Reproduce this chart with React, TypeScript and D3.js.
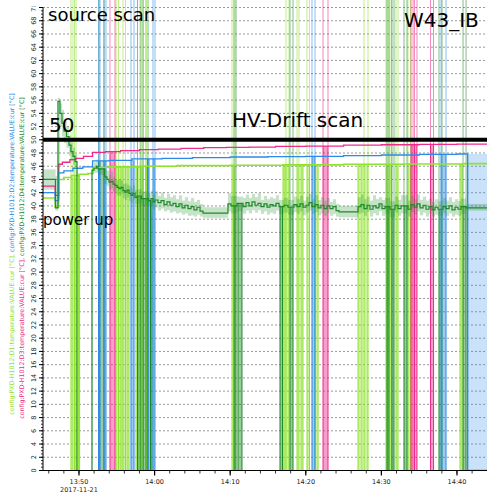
import React from 'react';
import * as d3 from 'd3';

const W = 487;
const H = 494;
const BASE = new Date(2017, 10, 21, 13, 45, 0).getTime();
const T = (m: number) => new Date(BASE + m * 60000);

const T_START = 0.24;
const T_END = 58.97;
const Y_MIN = 0;
const Y_MAX = 70;

const LIME = '#8fe22e';
const PINK = '#ee2a8a';
const BLUE = '#2b8ae6';
const DGREEN = '#1e8a28';

const labelD1 = 'config:PXD-H1012:D1:temperature:VALUE:cur [°C],';
const labelD2 = ' config:PXD-H1012:D2:temperature:VALUE:cur [°C]';
const labelD3 = 'config:PXD-H1012:D3:temperature:VALUE:cur [°C],';
const labelD4 = ' config:PXD-H1012:D4:temperature:VALUE:cur [°C]';

// [minutes after 13:45, value]
const d1Line: [number, number][] = [
  [0.24, 41.2], [1.85, 39.8], [2.3, 44.0], [3.0, 44.3], [4.0, 44.6], [5.0, 44.8], [6.2, 44.9],
  [6.85, 45.8], [9.0, 45.9], [13, 46.0], [18, 46.1], [25, 46.15], [32, 46.2], [40, 46.3],
  [48, 46.35], [56, 46.4], [58.97, 46.4],
];
const d2Line: [number, number][] = [
  [0.24, 42], [1.85, 40.8], [2.3, 45.0], [3.0, 45.3], [4.2, 45.7], [5.5, 45.9], [6.8, 46.8],
  [9, 46.9], [12, 47.1], [16, 47.2], [20, 47.3], [25, 47.4], [30, 47.45], [35, 47.5], [40, 47.6],
  [45, 47.7], [50, 47.8], [55, 47.85], [56.4, 0], [58.97, 0],
];
const d3Line: [number, number][] = [
  [0.24, 43], [1.85, 41.6], [2.3, 46.3], [2.8, 46.6], [3.8, 47], [4.6, 47.2], [5.6, 47.5],
  [6.8, 48.1], [8.5, 48.2], [10.5, 48.35], [13, 48.5], [15.5, 48.6], [18.5, 48.7], [21.5, 48.8],
  [24.5, 48.85], [27.5, 48.9], [31, 49.0], [35, 49.05], [40, 49.2], [45, 49.25], [50, 49.3],
  [55, 49.35], [58.97, 49.35],
];
// [minutes, mean, min, max]
const d4Line: [number, number, number, number][] = [
  [0.24, 44, 42.5, 45.5], [1.89, 39.7, 39.3, 44.5], [2.22, 55.8, 41, 56.3], [2.49, 54, 52, 55.5],
  [2.75, 52.5, 50.5, 54.5], [3.02, 51.3, 49.5, 53], [3.35, 50.5, 48.8, 52], [3.68, 49.2, 47.6, 50.6],
  [3.94, 48.2, 46.8, 49.6], [4.21, 47.5, 46.2, 48.8], [4.47, 46.7, 45.8, 47.8], [4.74, 0, 0, 0],
  [6.72, 45.4, 44.8, 46], [6.99, 45.7, 45, 46.6], [7.32, 46, 45, 47], [7.52, 45.6, 44.7, 46.8],
  [8.37, 44.4, 43.3, 45.5], [8.7, 44, 43, 45.3], [8.97, 43.6, 42.5, 44.7], [9.23, 43.7, 42.6, 45.2],
  [9.5, 43.3, 42.2, 44.4], [9.76, 43.1, 41.9, 44.1], [10.03, 42.8, 41.6, 43.9], [10.29, 42.6, 41.5, 44],
  [10.56, 42.8, 41.8, 43.8], [10.82, 42.3, 41.2, 43.3], [11.09, 42.1, 40.9, 43.4], [11.35, 42.4, 41.3, 43.2],
  [11.62, 41.9, 40.8, 43], [11.88, 41.6, 40.4, 42.6], [12.14, 41.9, 40.9, 43.1], [12.41, 41.3, 40.3, 42.4],
  [12.67, 41.5, 40.4, 42.5], [13.27, 41.1, 40, 42.2], [14.19, 40.8, 39.9, 42], [14.52, 41.1, 40, 42.3],
  [14.79, 40.6, 39.5, 41.7], [15.05, 40.9, 39.8, 42.2], [15.45, 40.5, 39.3, 41.5], [15.85, 40.8, 39.6, 42],
  [16.25, 40.2, 39.2, 41.2], [16.64, 40.6, 39.4, 41.8], [17.04, 40.1, 39, 41.3], [17.44, 40.4, 39.2, 41.6],
  [17.83, 39.9, 38.9, 41], [18.23, 40.3, 39, 41.6], [18.63, 39.7, 38.7, 40.8], [19.02, 40.1, 38.9, 41.3],
  [19.42, 39.6, 38.5, 40.7], [19.82, 39.9, 38.6, 41.2], [20.21, 39.4, 38.4, 40.6], [20.61, 39.8, 38.7, 40.9],
  [21.01, 39.2, 38.4, 40.3], [21.4, 38.9, 38.2, 39.8], [24.58, 38.9, 38.2, 39.8], [24.71, 40.3, 39.2, 41.9],
  [25.11, 40, 38.9, 41.5], [25.9, 40.4, 39.2, 41.4], [26.7, 39.9, 38.8, 41.2], [27.09, 40.5, 39.3, 41.7],
  [27.49, 40, 38.9, 41.2], [27.89, 40.6, 39.4, 41.8], [28.28, 40.1, 39, 41.3], [28.68, 40.4, 39.4, 41.9],
  [29.08, 39.9, 38.8, 40.9], [29.47, 40.3, 39.2, 41.5], [29.87, 39.8, 38.7, 41], [30.27, 40.2, 39, 41.3],
  [30.66, 40, 38.8, 41.1], [31.06, 40.4, 39.3, 41.6], [31.46, 39.9, 38.8, 40.9], [32.12, 40.1, 39, 41.2],
  [32.65, 39.8, 38.7, 40.9], [33.44, 40.2, 39.1, 41.4], [33.84, 39.9, 38.8, 41], [34.23, 40.3, 39.2, 41.5],
  [34.63, 39.8, 38.6, 40.8], [35.03, 40.1, 39, 41.4], [35.43, 40.5, 39.3, 41.8], [35.82, 39.9, 38.8, 41],
  [36.22, 40.2, 39.1, 41.6], [36.62, 39.7, 38.6, 40.9], [37.01, 40.1, 38.9, 41.3], [37.41, 39.6, 38.5, 40.8],
  [37.81, 40, 38.9, 41.2], [38.2, 39.6, 38.5, 40.6], [38.6, 39.9, 38.8, 41], [39.0, 39.3, 38.4, 40.3],
  [39.39, 39.1, 38.3, 40], [41.64, 39.1, 38.3, 40], [41.91, 39.9, 38.8, 41.3], [42.3, 40.2, 39, 41.7],
  [42.7, 39.6, 38.5, 41], [43.1, 40.1, 39.1, 41.4], [43.49, 39.5, 38.4, 40.8], [43.89, 40, 38.9, 41.6],
  [44.29, 39.7, 38.6, 41], [44.68, 40.3, 39.2, 41.3], [45.08, 39.6, 38.5, 40.9], [45.48, 39.9, 38.8, 41.2],
  [46.14, 39.5, 38.3, 40.7], [46.8, 40.1, 39, 41.4], [47.2, 39.6, 38.5, 40.9], [47.6, 40, 38.9, 41.6],
  [48.52, 39.5, 38.4, 40.8], [48.92, 40.2, 39.1, 41.5], [49.32, 39.8, 38.7, 41], [49.71, 40.3, 39.2, 41.7],
  [50.11, 39.7, 38.6, 40.9], [50.51, 40.1, 39, 41.4], [50.9, 39.5, 38.4, 40.8], [51.3, 39.9, 38.8, 41.1],
  [51.7, 39.4, 38.4, 40.6], [52.09, 39.8, 38.7, 41], [52.49, 39.5, 38.5, 40.7], [53.15, 39.9, 38.9, 41.2],
  [53.55, 39.6, 38.5, 40.8], [53.95, 40, 38.9, 41.3], [54.34, 39.4, 38.4, 40.6], [54.74, 39.8, 38.7, 41],
  [55.14, 39.5, 38.5, 40.7], [55.54, 39.9, 38.8, 41.1], [56.2, 39.7, 39.3, 40.3], [58.97, 39.7, 39.3, 40.3],
];

// dropouts: [start min, end min, spike to top (1) or not (0)]
const d1Drops: [number, number, number][] = [
  [3.94, 4.21, 1], [4.41, 4.61, 1], [4.95, 5.08, 0], [9.9, 10.23, 1], [10.43, 10.69, 0],
  [10.82, 11.15, 1], [11.35, 11.62, 0], [12.54, 12.81, 0], [13.07, 13.47, 1], [13.8, 13.93, 1],
  [25.24, 25.64, 1], [31.99, 32.25, 0], [32.38, 32.78, 1], [33.84, 34.1, 1], [34.37, 34.63, 0],
  [35.16, 35.49, 1], [36.22, 36.62, 0], [41.91, 42.44, 0], [42.7, 43.23, 1], [45.61, 45.88, 1],
  [46.14, 46.34, 1], [46.93, 47.2, 1], [48.52, 48.85, 1], [55.4, 55.67, 0],
];
const d2Drops: [number, number, number][] = [
  [7.58, 7.78, 1], [8.31, 8.57, 1], [11.88, 12.28, 1], [14.06, 14.26, 0], [14.79, 15.05, 1],
  [35.82, 36.22, 1], [52.89, 53.55, 1],
];
const d3Drops: [number, number, number][] = [
  [9.1, 9.76, 1], [37.28, 37.94, 1], [48.92, 49.19, 1], [49.38, 49.71, 1], [51.5, 51.9, 1],
];
const d4Drops: [number, number, number][] = [
  [7.65, 8.31, 1], [12.74, 13.2, 1], [13.47, 14.13, 1], [14.46, 14.66, 0], [25.5, 25.77, 1],
  [26.03, 26.56, 0], [31.59, 31.92, 0], [32.91, 33.31, 1], [45.74, 46.01, 1], [46.4, 46.67, 1],
  [47.99, 48.39, 1], [52.62, 53.02, 1], [55.8, 56.2, 1],
];

const yTickValues = d3.range(0, 71, 2);
const yMinorValues = d3.range(0, 70.01, 0.5);

const L = 43;
const R = 487;
const Y0 = 470.5;
const Y70 = 7.5;

function valueAt(line: number[][], t: number) {
  let v = line[0][1];
  for (const p of line) {
    if (p[0] <= t) v = p[1];
    else break;
  }
  return v;
}

export default function App() {
  const x = d3.scaleTime().domain([T(T_START), T(T_END)]).range([L, R]);
  const y = d3.scaleLinear().domain([Y_MIN, Y_MAX]).range([Y0, Y70]);

  const line = d3
    .line<number[]>()
    .x((d) => x(T(d[0])))
    .y((d) => y(d[1]))
    .curve(d3.curveStepAfter);
  const band = d3
    .area<number[]>()
    .x((d) => x(T(d[0])))
    .y0((d) => y(d[2]))
    .y1((d) => y(d[3]))
    .curve(d3.curveStepAfter);

  const majorX = x.ticks(d3.timeMinute.every(10) as any);
  const minorX = x.ticks(d3.timeMinute.every(2) as any);
  const fmt = d3.timeFormat('%H:%M');

  const drops = (list: [number, number, number][], ln: number[][], color: string, k: string) =>
    list.map(([t0, t1, top], i) => {
      const v = valueAt(ln, t0);
      const x0 = x(T(t0));
      const x1 = x(T(t1));
      return (
        <g key={k + i}>
          <rect x={x0} y={y(v)} width={Math.max(x1 - x0, 1)} height={y(0) - y(v)} fill={color} opacity={0.45} />
          <line x1={x0} x2={x0} y1={y(0)} y2={y(v)} stroke={color} strokeWidth={1} />
          <line x1={x1} x2={x1} y1={y(0)} y2={y(v)} stroke={color} strokeWidth={1} />
          {top ? (
            <g>
              <line x1={x0} x2={x0} y1={0} y2={y(v)} stroke={color} strokeWidth={1} opacity={0.55} />
              <line x1={x1} x2={x1} y1={0} y2={y(v)} stroke={color} strokeWidth={1} opacity={0.55} />
            </g>
          ) : null}
        </g>
      );
    });

  const blueEndStart = 56.4;
  const blueEndVal = 47.85;

  return (
    <svg
      width={W}
      height={H}
      style={{ position: 'absolute', left: 0, top: 0, background: '#fff' }}
      fontFamily="DejaVu Sans, sans-serif"
    >
      <defs>
        <clipPath id="plotclip">
          <rect x={L} y={0} width={R - L} height={Y0} />
        </clipPath>
        <clipPath id="ylabclip">
          <rect x={0} y={6.5} width={L} height={H} />
        </clipPath>
      </defs>
      <rect x={0} y={0} width={W} height={H} fill="#fff" />
      {/* grid */}
      {yTickValues.map((v) => (
        <line key={'g' + v} x1={L} x2={R} y1={y(v)} y2={y(v)} stroke="#999" strokeWidth={1} strokeDasharray="2,2" />
      ))}
      <g clipPath="url(#plotclip)">
        {/* blue end region */}
        <rect
          x={x(T(blueEndStart))}
          y={y(blueEndVal)}
          width={R - x(T(blueEndStart))}
          height={y(0) - y(blueEndVal)}
          fill={BLUE}
          opacity={0.25}
        />
        <line x1={x(T(blueEndStart))} x2={x(T(blueEndStart))} y1={y(0)} y2={y(blueEndVal)} stroke={BLUE} strokeWidth={1.2} />
        {drops(d1Drops, d1Line, LIME, 'a')}
        {drops(d4Drops, d4Line, DGREEN, 'd')}
        {drops(d2Drops, d2Line, BLUE, 'b')}
        {drops(d3Drops, d3Line, PINK, 'c')}
        <path d={band(d4Line) || ''} fill={DGREEN} opacity={0.25} stroke={DGREEN} strokeOpacity={0.35} strokeWidth={0.6} />
        <path d={line(d1Line) || ''} fill="none" stroke={LIME} strokeWidth={1.6} />
        <path d={line(d3Line) || ''} fill="none" stroke={PINK} strokeWidth={1.3} />
        <path d={line(d2Line) || ''} fill="none" stroke={BLUE} strokeWidth={1.3} />
        <path d={line(d4Line) || ''} fill="none" stroke={DGREEN} strokeWidth={1.2} />
      </g>
      {/* 50 line */}
      <line x1={L} x2={R} y1={y(50)} y2={y(50)} stroke="#000" strokeWidth={4} />
      {/* axes */}
      <line x1={L} x2={R} y1={Y0} y2={Y0} stroke="#000" strokeWidth={1} />
      <line x1={L} x2={L} y1={Y70} y2={Y0} stroke="#000" strokeWidth={1} />
      {yMinorValues.map((v) => (
        <line key={'ym' + v} x1={L - 2} x2={L} y1={y(v)} y2={y(v)} stroke="#000" strokeWidth={0.8} />
      ))}
      {yTickValues.map((v) => (
        <line key={'yt' + v} x1={L - 4} x2={L} y1={y(v)} y2={y(v)} stroke="#000" strokeWidth={1} />
      ))}
      <g clipPath="url(#ylabclip)">
        {yTickValues.map((v) => (
          <text
            key={'yl' + v}
            transform={`translate(36,${y(v)}) rotate(-90)`}
            textAnchor="middle"
            fontSize={6.5}
            fill="#222"
          >
            {v}
          </text>
        ))}
      </g>
      {minorX.map((d, i) => (
        <line key={'xm' + i} x1={x(d)} x2={x(d)} y1={Y0} y2={Y0 + 3} stroke="#000" strokeWidth={0.8} />
      ))}
      {majorX.map((d, i) => (
        <g key={'xt' + i}>
          <line x1={x(d)} x2={x(d)} y1={Y0} y2={Y0 + 5} stroke="#000" strokeWidth={1.2} />
          <text x={x(d)} y={484} textAnchor="middle" fontSize={6.5} fill="#222">
            {fmt(d)}
          </text>
        </g>
      ))}
      <text x={x(T(5))} y={492} textAnchor="middle" fontSize={6.5} fill="#222">
        2017-11-21
      </text>
      {/* y labels */}
      <text transform="translate(14,254) rotate(-90)" textAnchor="middle" fontSize={6.3}>
        <tspan fill={LIME}>{labelD1}</tspan>
        <tspan fill={BLUE}>{labelD2}</tspan>
      </text>
      <text transform="translate(24,258) rotate(-90)" textAnchor="middle" fontSize={6.3}>
        <tspan fill={PINK}>{labelD3}</tspan>
        <tspan fill={DGREEN}>{labelD4}</tspan>
      </text>
      {/* annotations */}
      <text x={48} y={21} fontSize={18} fill="#000">source scan</text>
      <text x={404} y={27} fontSize={20} fill="#000">W43_IB</text>
      <text x={49} y={132} fontSize={20} fill="#000">50</text>
      <text x={232} y={127} fontSize={20} fill="#000">HV-Drift scan</text>
      <text x={43} y={225} fontSize={15} fill="#000">power up</text>
    </svg>
  );
}
